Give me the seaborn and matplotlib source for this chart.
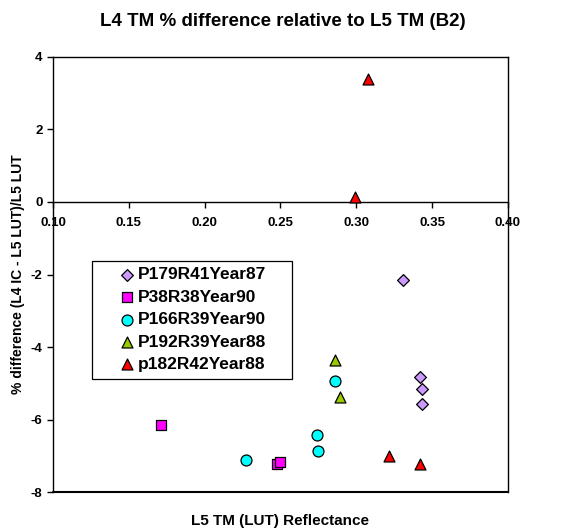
import matplotlib
matplotlib.use("Agg")
import matplotlib.pyplot as plt
from matplotlib.patches import Rectangle
import seaborn as sns

# values
p179_x = [0.331, 0.342, 0.343, 0.343]
p179_y = [-2.14, -4.83, -5.17, -5.56]
p38_x = [0.171, 0.248, 0.2495]
p38_y = [-6.16, -7.24, -7.17]
p166_x = [0.2275, 0.274, 0.275, 0.286]
p166_y = [-7.11, -6.44, -6.88, -4.95]
p192_x = [0.286, 0.289]
p192_y = [-4.36, -5.37]
p182_x = [0.299, 0.3075, 0.3214, 0.3423]
p182_y = [0.15, 3.40, -7.02, -7.24]

x_ticks = [0.10, 0.15, 0.20, 0.25, 0.30, 0.35, 0.40]
y_ticks = [-8, -6, -4, -2, 0, 2, 4]

sns.set_style("white")
plt.rcParams['font.family'] = ['Liberation Sans', 'DejaVu Sans']
plt.rcParams['font.weight'] = 'bold'
plt.rcParams['axes.labelweight'] = 'bold'
plt.rcParams['axes.unicode_minus'] = False
plt.rcParams['text.color'] = 'black'
plt.rcParams['axes.labelcolor'] = 'black'

fig = plt.figure(figsize=(5.65, 5.31), dpi=100)
ax = fig.add_axes([0.0938, 0.0734, 0.8053, 0.8193])

series = [
    ("P179R41Year87", p179_x, p179_y, "D", "#CC99FF", 36),
    ("P38R38Year90", p38_x, p38_y, "s", "#FF00FF", 58),
    ("P166R39Year90", p166_x, p166_y, "o", "#00FFFF", 62),
    ("P192R39Year88", p192_x, p192_y, "^", "#99CC00", 62),
    ("p182R42Year88", p182_x, p182_y, "^", "#FF0000", 62),
]
for name, xs, ys, mk, col, sz in series:
    sns.scatterplot(x=xs, y=ys, ax=ax, marker=mk, color=col, s=sz,
                    edgecolor="black", linewidth=0.9, label=name, zorder=4)

ax.set_xlim(0.10, 0.40)
ax.set_ylim(-8, 4)
ax.set_xticks(x_ticks)
ax.set_xticklabels([f"{t:.2f}" for t in x_ticks])
ax.set_yticks(y_ticks)

# x axis crosses at zero, frame kept around the plot area
ax.spines['bottom'].set_position(('data', 0))
for s in ['left', 'bottom', 'top', 'right']:
    ax.spines[s].set_color('black')
    ax.spines[s].set_linewidth(1.0)
ax.axhline(-8, color='black', lw=1.5, clip_on=False, zorder=3)

ax.tick_params(axis='x', direction='out', length=4, width=1, pad=7, labelsize=9.5, colors='black')
ax.tick_params(axis='y', direction='out', length=4, width=1, pad=3.5, labelsize=9.5, colors='black')
ax.xaxis.set_ticks_position('bottom')
ax.yaxis.set_ticks_position('left')

ax.set_xlabel("L5 TM (LUT) Reflectance", fontsize=11)
ax.xaxis.set_label_coords(0.5, -0.067)
ax.xaxis.label.set_va('center')
ax.set_ylabel("% difference (L4 IC - L5 LUT)/L5 LUT", fontsize=10)
ax.yaxis.set_label_coords(-0.077, 0.5)
ax.yaxis.label.set_va('center')

fig.text(0.5, 0.96, "L4 TM % difference relative to L5 TM (B2)",
         ha='center', va='center', fontsize=13.5, fontweight='bold', color='black')

ax.add_patch(Rectangle((0.0857, 0.260), 0.4396, 0.2713, transform=ax.transAxes,
                       facecolor='white', edgecolor='black', lw=0.9, zorder=5))
leg = ax.legend(loc='upper left', bbox_to_anchor=(0.148, 0.517), borderaxespad=0,
                borderpad=0, frameon=False, fontsize=12.5, handlelength=0.8,
                handletextpad=0.2, labelspacing=0.42, scatterpoints=1)
leg.set_zorder(6)

fig.savefig("out.png", dpi=100)
